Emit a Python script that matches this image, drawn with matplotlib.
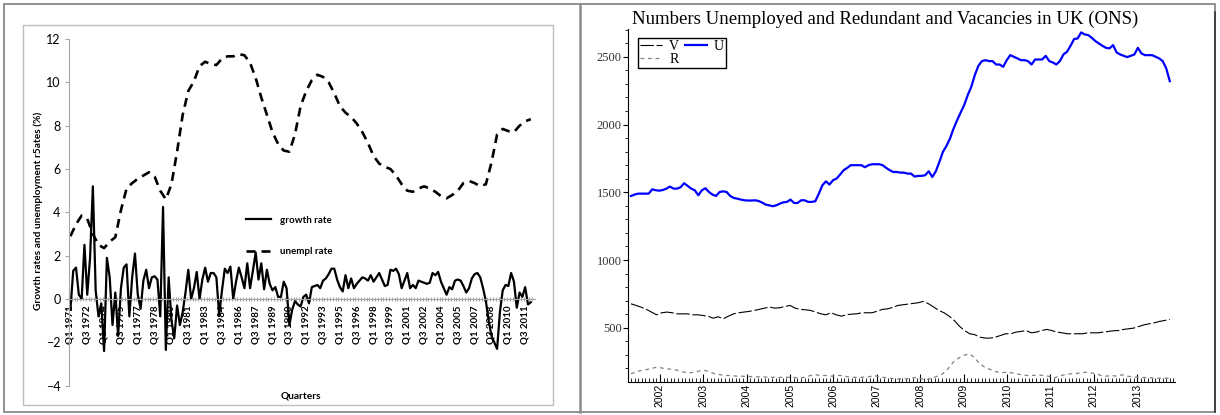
import numpy as np
import matplotlib
matplotlib.use("Agg")
import matplotlib.pyplot as plt
from matplotlib.patches import Rectangle
from matplotlib.lines import Line2D

W, H = 1220, 415


def box(x0, y0, x1, y1):
    # pixel box with top-left origin -> figure fraction [l, b, w, h]
    return [x0 / W, 1 - y1 / H, (x1 - x0) / W, (y1 - y0) / H]


# ---- left chart: quarterly growth rate and unemployment rate (%) ----
growth = [
    -0.5, 1.3, 1.45, 0.2, 0.0, 2.5, 0.2, 1.9, 5.2, 0.4,
    -0.8, -0.2, -2.4, 1.9, 1.0, -1.2, 0.3, -1.7, 0.5, 1.45,
    1.6, -0.8, 1.0, 2.1, 0.2, -0.45, 0.85, 1.35, 0.5, 1.0,
    1.05, 0.9, -0.8, 4.25, -2.35, 1.0, -1.0, -1.8, -0.3, -1.2,
    -0.6, 0.3, 1.35, 0.0, 0.5, 1.25, 0.0, 0.9, 1.45, 0.8,
    1.2, 1.2, 1.0, -0.75, 0.4, 1.4, 1.2, 1.5, 0.0, 0.8,
    1.45, 1.0, 0.5, 1.65, 0.5, 1.3, 2.15, 0.9, 1.65, 0.45,
    1.35, 0.7, 0.4, 0.55, 0.1, 0.1, 0.8, 0.5, -1.2, -0.5,
    -0.1, -0.25, -0.35, 0.1, 0.2, -0.2, 0.55, 0.6, 0.65, 0.5,
    0.85, 0.95, 1.15, 1.4, 1.4, 0.9, 0.55, 0.35, 1.1, 0.5,
    0.95, 0.5, 0.7, 0.85, 1.0, 0.95, 0.85, 1.1, 0.8, 1.0,
    1.2, 0.9, 0.6, 0.65, 1.35, 1.3, 1.4, 1.15, 0.5, 0.85,
    1.2, 0.5, 0.65, 0.5, 0.85, 0.8, 0.75, 0.7, 0.75, 1.2,
    1.1, 1.25, 0.8, 0.5, 0.2, 0.55, 0.45, 0.85, 0.9, 0.85,
    0.6, 0.3, 0.5, 0.95, 1.15, 1.2, 1.0, 0.5, -0.1, -1.0,
    -1.7, -2.0, -2.3, -0.6, 0.4, 0.65, 0.6, 1.2, 0.8, -0.4,
    0.3, 0.1, 0.55, -0.25, -0.15,
]

# unemployment rate, read every second quarter
unempl = [
    2.9, 3.45, 3.85, 3.7, 3.0, 2.5, 2.35, 2.65, 2.85, 4.1,
    5.1, 5.35, 5.55, 5.7, 5.85, 5.65, 5.0, 4.6, 5.3, 6.8,
    8.5, 9.6, 10.05, 10.75, 10.95, 10.85, 10.8, 11.1, 11.2, 11.2,
    11.3, 11.25, 10.9, 10.2, 9.3, 8.5, 7.7, 7.15, 6.85, 6.8,
    7.6, 8.9, 9.6, 10.1, 10.35, 10.25, 10.0, 9.5, 8.9, 8.6,
    8.4, 8.1, 7.7, 7.2, 6.6, 6.25, 6.1, 6.0, 5.7, 5.3,
    5.0, 4.95, 5.1, 5.2, 5.1, 4.95, 4.75, 4.65, 4.8, 5.0,
    5.35, 5.45, 5.35, 5.2, 5.3, 6.3, 7.6, 7.85, 7.75, 7.7,
    8.0, 8.2, 8.3,
]

quarter_labels = [
    "Q1 1971", "Q3 1972", "Q1 1974", "Q3 1975", "Q1 1977", "Q3 1978",
    "Q1 1980", "Q3 1981", "Q1 1983", "Q3 1984", "Q1 1986", "Q3 1987",
    "Q1 1989", "Q3 1990", "Q1 1992", "Q3 1993", "Q1 1995", "Q3 1996",
    "Q1 1998", "Q3 1999", "Q1 2001", "Q3 2002", "Q1 2004", "Q3 2005",
    "Q1 2007", "Q3 2008", "Q1 2010", "Q3 2011",
]

# ---- right chart: monthly thousands, May 2001 to Oct 2013 ----
U = [
    1473, 1483, 1490, 1490, 1490, 1490, 1522, 1515, 1512, 1517,
    1527, 1542, 1527, 1527, 1537, 1567, 1547, 1527, 1515, 1478,
    1515, 1530, 1502, 1483, 1473, 1502, 1507, 1502, 1473, 1458,
    1453, 1446, 1441, 1439, 1439, 1441, 1436, 1424, 1409, 1404,
    1397, 1404, 1416, 1426, 1429, 1446, 1421, 1421, 1441, 1441,
    1429, 1429, 1434, 1490, 1552, 1581, 1557, 1589, 1601, 1631,
    1663, 1680, 1700, 1700, 1700, 1700, 1685, 1700, 1707, 1707,
    1707, 1700, 1680, 1663, 1650, 1650, 1645, 1645, 1638, 1638,
    1616, 1621, 1621, 1626, 1655, 1613, 1655, 1724, 1798, 1842,
    1897, 1970, 2032, 2089, 2143, 2217, 2278, 2365, 2433, 2468,
    2475, 2468, 2468, 2443, 2443, 2426, 2475, 2512, 2500, 2488,
    2475, 2475, 2468, 2443, 2480, 2480, 2480, 2507, 2468, 2458,
    2443, 2468, 2517, 2537, 2581, 2631, 2635, 2680, 2665, 2660,
    2640, 2616, 2598, 2581, 2566, 2562, 2586, 2532, 2517, 2507,
    2498, 2507, 2517, 2566, 2525, 2512, 2512, 2512, 2500, 2488,
    2468, 2414, 2320,
]

V = [
    677, 665, 652, 636, 616, 596, 611, 616, 611, 603,
    603, 603, 596, 596, 591, 586, 571, 581, 567, 586,
    603, 611, 616, 621, 628, 636, 645, 653, 645, 648,
    658, 665, 645, 636, 633, 628, 616, 603, 596, 611,
    596, 586, 596, 601, 603, 611, 611, 611, 623, 636,
    640, 650, 665, 670, 675, 680, 685, 695, 677, 653,
    628, 611, 586, 554, 512, 480, 456, 449, 431, 424,
    424, 431, 443, 456, 456, 468, 473, 480, 463, 468,
    480, 488, 480, 468, 463, 456, 456, 456, 456, 463,
    463, 463, 468, 473, 478, 480, 488, 493, 498, 510,
    522, 530, 537, 547, 554, 562,
]

R = [
    160, 177, 185, 192, 202, 209, 202, 197, 192, 185,
    172, 168, 172, 182, 185, 172, 160, 153, 148, 148,
    143, 143, 140, 140, 138, 138, 135, 135, 133, 135,
    135, 133, 131, 135, 148, 153, 148, 148, 143, 148,
    148, 138, 135, 133, 135, 138, 148, 138, 133, 128,
    123, 123, 123, 128, 133, 123, 118, 128, 143, 160,
    197, 246, 276, 296, 308, 283, 234, 209, 192, 177,
    168, 172, 168, 160, 153, 148, 148, 153, 148, 143,
    128, 143, 153, 160, 160, 168, 172, 168, 160, 148,
    143, 148, 143, 153, 143, 138, 135, 133, 133, 128,
    128, 128, 128,
]

start_date = 2001 + 4 / 12
end_date = 2013 + 9 / 12
years = list(range(2002, 2014))

fig = plt.figure(figsize=(12.2, 4.15), dpi=100)

# outer frames of the two screenshots
fig.add_artist(Rectangle((4 / W, 1 - 412 / H), (1215 - 4) / W, (412 - 4) / H,
                         transform=fig.transFigure, fill=False, ec="#7f7f7f", lw=1.2))
fig.add_artist(Line2D([580 / W, 580 / W], [1 - 412 / H, 1 - 4 / H],
                      transform=fig.transFigure, color="#8c8c8c", lw=1.8))
fig.add_artist(Line2D([1215 / W, 1215 / W], [1 - 412 / H, 1 - 12 / H],
                      transform=fig.transFigure, color="#333333", lw=1.2))
fig.add_artist(Rectangle((23 / W, 1 - 405 / H), (553 - 23) / W, (405 - 25) / H,
                         transform=fig.transFigure, fill=False, ec="#bdbdbd", lw=1))

# ---------------- left: excel style chart ----------------
ax1 = fig.add_axes(box(69, 39, 535, 385.7))
# spine position first, it resets the ticks
ax1.spines["bottom"].set_position(("data", 0))
ax1.spines["bottom"].set_color("#a6a6a6")
ax1.spines["left"].set_color("#a6a6a6")
ax1.spines["top"].set_visible(False)
ax1.spines["right"].set_visible(False)

n = len(growth)
q = np.arange(n)
ax1.plot(q, growth, color="black", lw=1.6, label="growth rate")
ax1.plot(q[::2], unempl, color="black", lw=1.9, dashes=(3.4, 2.3), label="unempl rate")

ax1.set_xlim(-0.5, n + 0.5)
ax1.set_ylim(-4, 12)
ax1.set_yticks(np.arange(-4, 13, 2))
ax1.set_xticks(q[::6][:len(quarter_labels)])
ax1.set_xticklabels(quarter_labels, rotation=90, fontfamily="Lato",
                    fontweight="bold", fontsize=7, va="top", ha="center")
ax1.set_xticks(np.arange(-0.5, n + 0.5, 1), minor=True)
ax1.tick_params(axis="x", which="major", length=0, pad=4.5)
ax1.tick_params(axis="x", which="minor", length=3, direction="inout",
                color="#a6a6a6", width=0.8)
ax1.tick_params(axis="y", length=3, color="#a6a6a6", pad=3, labelsize=9)
for lab in ax1.get_yticklabels():
    lab.set_fontfamily("Lato")

fig.text(38 / W, 1 - 211 / H, "Growth rates and unemployment r5ates (%)",
         rotation=90, ha="center", va="center", fontfamily="Lato",
         fontweight="bold", fontsize=7.3)
fig.text(301 / W, 1 - 396 / H, "Quarters", ha="center", va="center",
         fontfamily="Lato", fontweight="bold", fontsize=7.3)

ax1.legend(loc="upper left", bbox_to_anchor=(241 / W, 1 - 211 / H),
           bbox_transform=fig.transFigure, frameon=False, borderpad=0,
           labelspacing=2.3, handlelength=2.6, handletextpad=0.9,
           prop={"family": "Lato", "weight": "bold", "size": 7})

# ---------------- right: eviews style chart ----------------
ax2 = fig.add_axes(box(628, 29, 1175, 382))
tu = np.linspace(start_date, end_date, len(U))
tv = np.linspace(start_date, end_date, len(V))
tr = np.linspace(start_date, end_date, len(R))
lv, = ax2.plot(tv, V, color="black", lw=0.8, dashes=(12, 2.5), label="V")
lu, = ax2.plot(tu, U, color="#0000ff", lw=1.6, label="U")
lr, = ax2.plot(tr, R, color="#7f7f7f", lw=0.9, dashes=(3, 3), label="R")

ax2.set_xlim(2001.265, 2013.87)
ax2.set_ylim(100, 2705)
ax2.set_yticks([500, 1000, 1500, 2000, 2500])
ax2.set_yticks(np.arange(200, 2701, 100), minor=True)
ax2.set_xticks(years)
ax2.set_xticklabels([str(y) for y in years], rotation=90, fontfamily="Liberation Sans",
                    fontsize=7.5, va="top")
ax2.set_xticks(np.arange(2001 + 4 / 12, 2013.87, 1 / 12), minor=True)
ax2.tick_params(axis="x", which="major", direction="in", length=6, pad=1.5)
ax2.tick_params(axis="x", which="minor", direction="in", length=3)
ax2.tick_params(axis="y", which="major", direction="out", length=3.5, pad=1)
ax2.tick_params(axis="y", which="minor", direction="out", length=2)
for lab in ax2.get_yticklabels():
    lab.set_fontfamily("Liberation Serif")
    lab.set_fontsize(9)
    lab.set_color("#333333")
ax2.spines["top"].set_visible(False)
ax2.spines["right"].set_visible(False)

fig.text(885 / W, 1 - 19 / H,
         "Numbers Unemployed and Redundant and Vacancies in UK (ONS)",
         ha="center", va="center", fontfamily="Liberation Serif", fontsize=13.5)

leg = ax2.legend(handles=[lv, lr, lu], ncol=2, loc="upper left",
                 bbox_to_anchor=(638 / W, 1 - 38 / H), bbox_transform=fig.transFigure,
                 fancybox=False, edgecolor="black", framealpha=1, borderpad=0.15,
                 labelspacing=0.0, handlelength=1.6, handletextpad=0.5,
                 columnspacing=0.4, borderaxespad=0,
                 prop={"family": "Liberation Serif", "size": 10})
leg.get_frame().set_linewidth(1.0)

fig.savefig("out.png", dpi=100)
